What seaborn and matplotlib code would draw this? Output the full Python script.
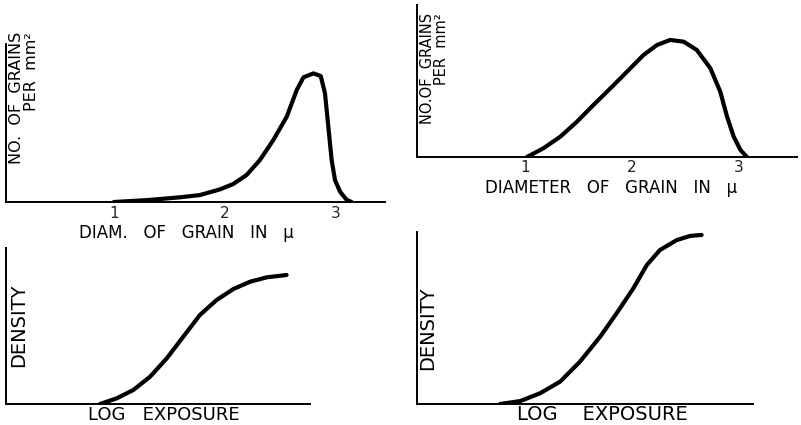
import matplotlib
matplotlib.use("Agg")
import matplotlib.pyplot as plt
import seaborn as sns
import pandas as pd

sns.set_theme(style="white")
plt.rcParams['font.family'] = ['DejaVu Sans']

# Panel A (top-left): grain size distribution, narrow (diameter in micron, relative count)
a_diam = [1.0, 1.3, 1.6, 1.775, 1.955, 2.075, 2.195, 2.315, 2.435, 2.556, 2.646, 2.706,
          2.796, 2.862, 2.90, 2.93, 2.96, 2.99, 3.036, 3.096, 3.14]
a_count = [0.0, 0.012, 0.03, 0.044, 0.080, 0.114, 0.171, 0.266, 0.392, 0.54, 0.709, 0.789,
           0.814, 0.797, 0.688, 0.477, 0.266, 0.139, 0.065, 0.013, 0.0]

# Panel B (top-right): grain size distribution, broad
b_diam = [1.016, 1.17, 1.33, 1.485, 1.64, 1.80, 1.955, 2.11, 2.237, 2.36, 2.486, 2.61,
          2.737, 2.83, 2.894, 2.956, 3.02, 3.08]
b_count = [0.0, 0.057, 0.134, 0.232, 0.342, 0.452, 0.561, 0.671, 0.737, 0.77, 0.759, 0.704,
           0.584, 0.43, 0.265, 0.134, 0.046, 0.0]

# Panel C (bottom-left): characteristic curve (relative log exposure, density)
c_logE = [0.309, 0.364, 0.419, 0.474, 0.529, 0.583, 0.638, 0.693, 0.748, 0.803, 0.858, 0.923]
c_dens = [0.0, 0.036, 0.09, 0.175, 0.293, 0.431, 0.571, 0.667, 0.737, 0.784, 0.812, 0.827]

# Panel D (bottom-right): characteristic curve
d_logE = [0.247, 0.307, 0.366, 0.426, 0.485, 0.545, 0.594, 0.644, 0.684, 0.723, 0.773, 0.8125, 0.847]
d_dens = [0.0, 0.017, 0.062, 0.13, 0.246, 0.391, 0.527, 0.673, 0.808, 0.895, 0.953, 0.977, 0.983]

diam_ticks = [1, 2, 3]

W, H = 801, 425
fig = plt.figure(figsize=(W / 100, H / 100), dpi=100)
fig.patch.set_facecolor("white")


def add_ax(left, right, top, bottom):
    return fig.add_axes([left / W, 1 - bottom / H, (right - left) / W, (bottom - top) / H])


def style(ax):
    for s in ["top", "right"]:
        ax.spines[s].set_visible(False)
    for s in ["left", "bottom"]:
        ax.spines[s].set_color("black")
        ax.spines[s].set_linewidth(1.4)
    ax.set_facecolor("white")
    ax.set_xlabel("")
    ax.set_ylabel("")


def draw(ax, xs, ys, xn, yn):
    df = pd.DataFrame({xn: xs, yn: ys})
    sns.lineplot(data=df, x=xn, y=yn, ax=ax, color="black", linewidth=3.0, sort=False,
                 solid_joinstyle="round", solid_capstyle="round")


def ftext(x, y, s, **kw):
    fig.text(x / W, 1 - y / H, s, color="black", **kw)


FS = 12
TFS = 11

# Panel A
axA = add_ax(6, 385, 44, 202)
draw(axA, a_diam, a_count, "diameter", "count")
axA.set_xlim(0.03, 3.44)
axA.set_ylim(0, 1)
style(axA)
axA.set_yticks([])
axA.set_xticks(diam_ticks)
axA.set_xticklabels([str(t) for t in diam_ticks], fontsize=TFS)
axA.tick_params(axis="x", length=4, width=1, color="black", direction="inout", pad=1)
ftext(17, 32, "NO.  OF  GRAINS", rotation=90, ha="center", va="top", fontsize=11.5)
ftext(32, 32, "PER  mm²", rotation=90, ha="center", va="top", fontsize=11.5)
ftext(186, 233, "DIAM.   OF   GRAIN   IN   μ", ha="center", va="center", fontsize=FS)

# Panel B
axB = add_ax(417, 797, 5, 157)
draw(axB, b_diam, b_count, "diameter", "count")
axB.set_xlim(-0.015, 3.55)
axB.set_ylim(0, 1)
style(axB)
axB.set_yticks([])
axB.set_xticks(diam_ticks)
axB.set_xticklabels([str(t) for t in diam_ticks], fontsize=TFS)
axB.tick_params(axis="x", length=4, width=1, color="black", direction="inout", pad=0)
ftext(427, 13, "NO.OF  GRAINS", rotation=90, ha="center", va="top", fontsize=10.5)
ftext(441, 13, "PER  mm²", rotation=90, ha="center", va="top", fontsize=10.5)
ftext(611, 188, "DIAMETER   OF   GRAIN   IN   μ", ha="center", va="center", fontsize=FS)

# Panel C
axC = add_ax(6, 310, 248, 404)
draw(axC, c_logE, c_dens, "log_exposure", "density")
axC.set_xlim(0, 1)
axC.set_ylim(0, 1)
style(axC)
axC.set_xticks([])
axC.set_yticks([])
ftext(19, 325, "DENSITY", rotation=90, ha="center", va="center", fontsize=14)
ftext(164, 415, "LOG   EXPOSURE", ha="center", va="center", fontsize=13)

# Panel D
axD = add_ax(417, 753, 232, 404)
draw(axD, d_logE, d_dens, "log_exposure", "density")
axD.set_xlim(0, 1)
axD.set_ylim(0, 1)
style(axD)
axD.set_xticks([])
axD.set_yticks([])
ftext(428, 328, "DENSITY", rotation=90, ha="center", va="center", fontsize=14)
ftext(602, 414, "LOG    EXPOSURE", ha="center", va="center", fontsize=14)

fig.savefig("out.png", dpi=100, facecolor="white")
